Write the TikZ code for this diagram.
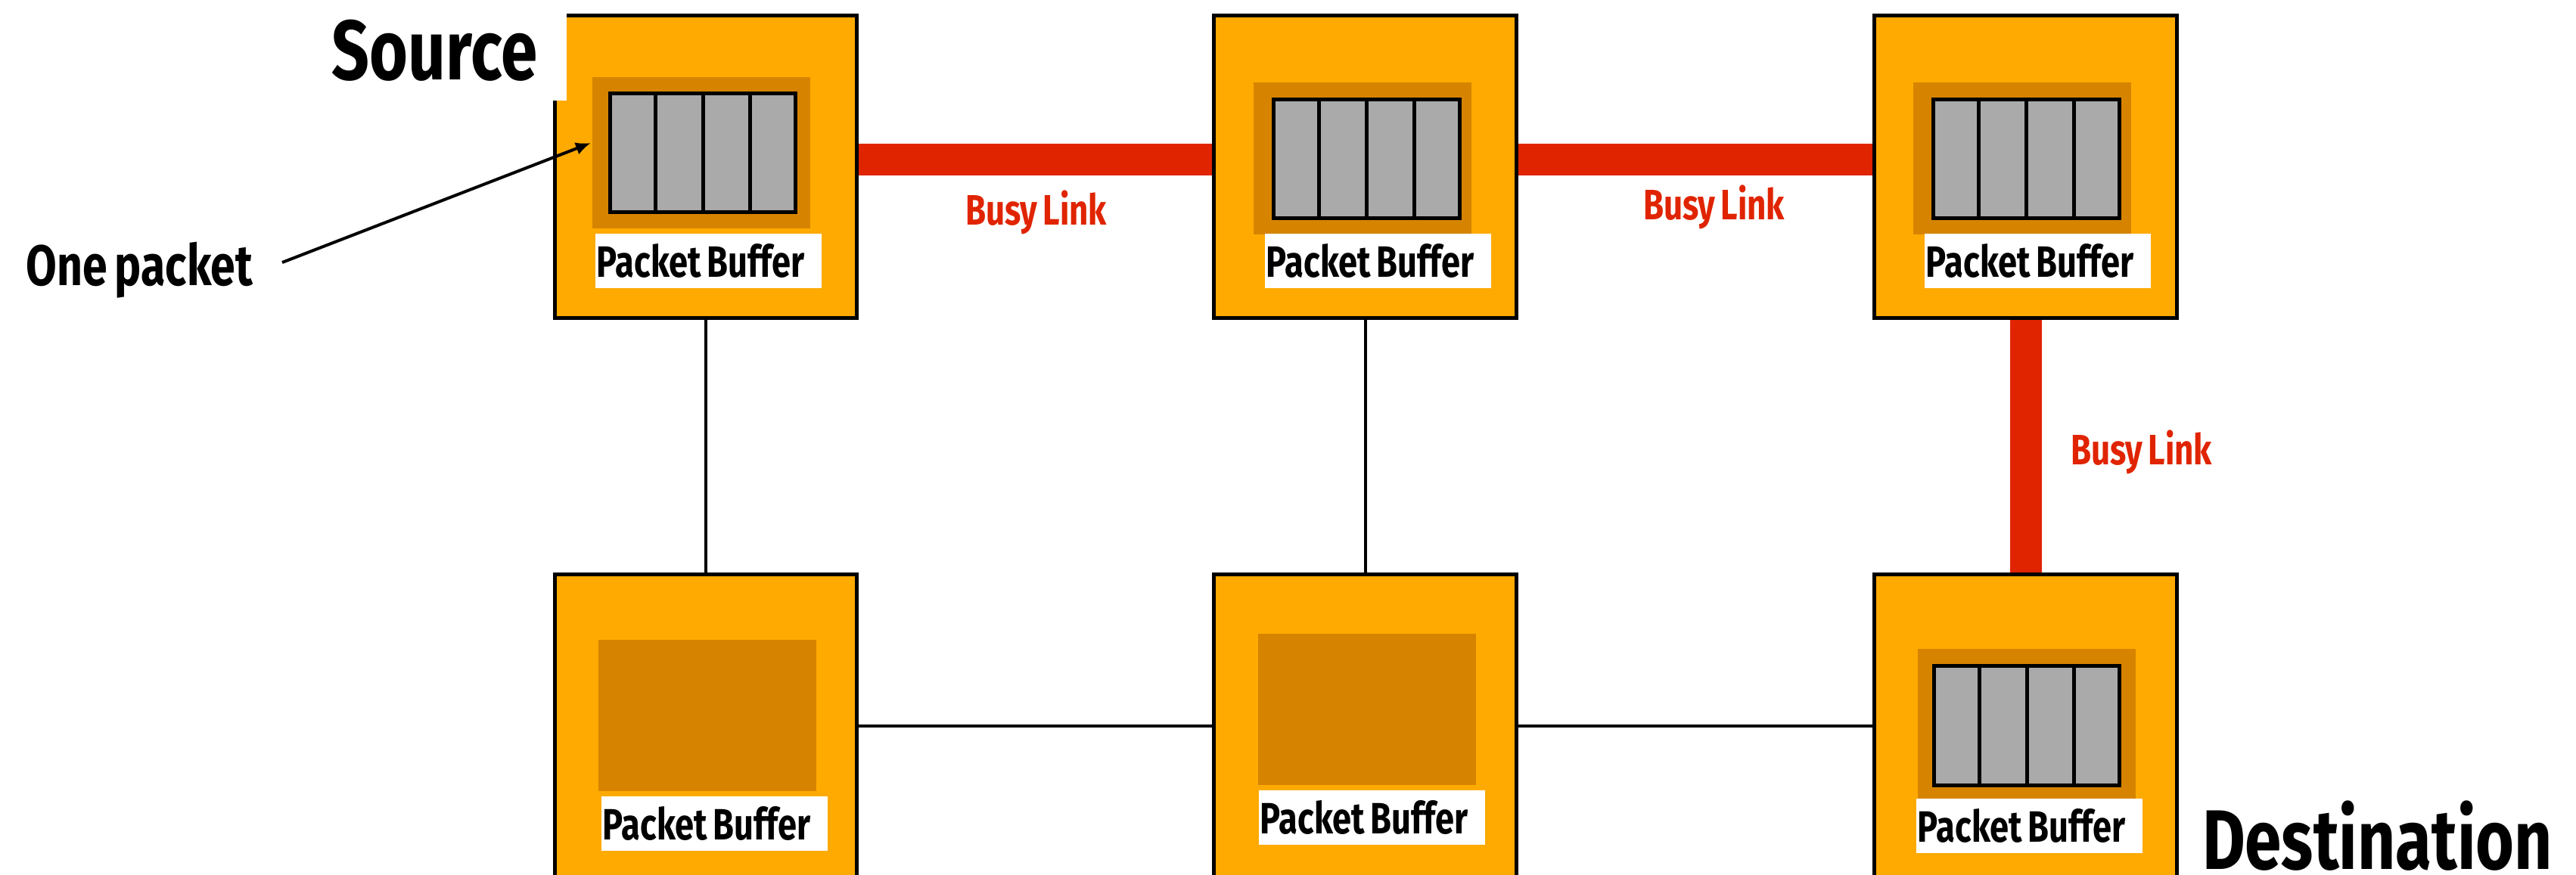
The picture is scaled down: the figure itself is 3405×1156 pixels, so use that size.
\documentclass[tikz,border=0pt]{standalone}
\usepackage{fontspec}
\newfontfamily\cfont[FakeStretch=0.78,WordSpace=0.7]{Fira Sans}
\usetikzlibrary{arrows.meta,backgrounds,calc}
\definecolor{rorange}{RGB}{255,170,0}
\definecolor{rdark}{RGB}{214,132,0}
\definecolor{qgray}{RGB}{170,170,170}
\definecolor{busyred}{RGB}{224,36,0}
\tikzset{
  router/.style={draw=black, fill=rorange, line width=0.05cm, minimum width=3.99cm, minimum height=3.99cm, inner sep=0pt, outer sep=0pt},
  bufbg/.style={fill=rdark, minimum width=2.88cm, minimum height=2.0cm, inner sep=0pt},
  queue/.style={draw=black, fill=qgray, line width=0.05cm, minimum width=2.45cm, minimum height=1.57cm, inner sep=0pt},
  pblabel/.style={fill=white, text width=2.95cm, align=left, inner xsep=0.02cm, inner ysep=0pt, minimum height=0.72cm, font=\cfont\bfseries\fontsize{16.5pt}{18pt}\selectfont},
  bigtext/.style={font=\cfont\bfseries\fontsize{31.8pt}{34pt}\selectfont, inner sep=0pt},
  midtext/.style={font=\cfont\bfseries\fontsize{21.5pt}{24pt}\selectfont, inner sep=0pt},
  busytext/.style={font=\cfont\bfseries\fontsize{16pt}{18pt}\selectfont, text=busyred, inner sep=0pt},
  busy/.style={draw=busyred, line width=0.42cm},
  idle/.style={draw=black, line width=0.04cm},
  pointer/.style={draw=black, line width=0.04cm, -{Latex[length=0.2cm,width=0.17cm]}}
}
\newcommand{\qdividers}[1]{%
  \foreach \k in {0.25,0.5,0.75}{%
    \draw[line width=0.05cm] ($(#1.north west)!\k!(#1.north east)$) -- ($(#1.south west)!\k!(#1.south east)$);}}
\newcommand{\natspace}{\spaceskip=0pt\xspaceskip=0pt\relax}
\begin{document}
\begin{tikzpicture}[x=0.01cm,y=-0.01cm]
\useasboundingbox (0,0) rectangle (3405,1156);
\clip (0,0) rectangle (3405,1156);

% routers
\node[router] (r1) at (933,220.5) {};
\node[router] (r2) at (1804.5,220.5) {};
\node[router] (r3) at (2677.5,220.5) {};
\node[router] (r4) at (933,959.5) {};
\node[router] (r5) at (1804.5,959.5) {};
\node[router] (r6) at (2677.5,959.5) {};

% links (behind routers)
\begin{scope}[on background layer]
  \draw[busy] ([yshift=0.095cm]r1.east) -- ([yshift=0.095cm]r2.west);
  \draw[busy] ([yshift=0.095cm]r2.east) -- ([yshift=0.095cm]r3.west);
  \draw[busy] (r3.south) -- (r6.north);
  \draw[idle] (r1.south) -- (r4.north);
  \draw[idle] (r2.south) -- (r5.north);
  \draw[idle] (r4.east) -- (r5.west);
  \draw[idle] (r5.east) -- (r6.west);
\end{scope}

% buffers
\node[bufbg] (b1) at (927,202) {};
\node[queue] (q1) at (929,202) {};
\qdividers{q1}
\node[pblabel] (l1) at (936.5,345) {\natspace Packet Buffer};

\node[bufbg] (b2) at (1801,209.5) {};
\node[queue] (q2) at (1806.5,210) {};
\qdividers{q2}
\node[pblabel] (l2) at (1821.5,345) {\natspace Packet Buffer};

\node[bufbg] (b3) at (2673,209.5) {};
\node[queue] (q3) at (2678.5,210) {};
\qdividers{q3}
\node[pblabel] (l3) at (2693.5,345) {\natspace Packet Buffer};

\node[bufbg] (b4) at (935,946) {};
\node[pblabel] (l4) at (944.5,1089) {\natspace Packet Buffer};

\node[bufbg] (b5) at (1807,938) {};
\node[pblabel] (l5) at (1813.5,1081) {\natspace Packet Buffer};

\node[bufbg] (b6) at (2679,958) {};
\node[queue] (q6) at (2679,959.5) {};
\qdividers{q6}
\node[pblabel] (l6) at (2682.5,1092) {\natspace Packet Buffer};

% labels
\node[bigtext, fill=white, minimum width=3.49cm, minimum height=1.33cm] (source) at (574.5,66.5) {Source};
\node[bigtext, anchor=base] (dest) at (3142.5,1149) {Destination};
\node[midtext, anchor=base west] (onep) at (34,377) {One packet};

\node[busytext, anchor=base] (busy1) at (1369.5,297) {Busy Link};
\node[busytext, anchor=base] (busy2) at (2265.5,290) {Busy Link};
\node[busytext, anchor=base] (busy3) at (2830.5,614) {Busy Link};

% pointer
\coordinate (ptail) at (373,347);
\coordinate (ptip) at (781,189);
\draw[pointer] (ptail) -- (ptip);
\end{tikzpicture}
\end{document}
